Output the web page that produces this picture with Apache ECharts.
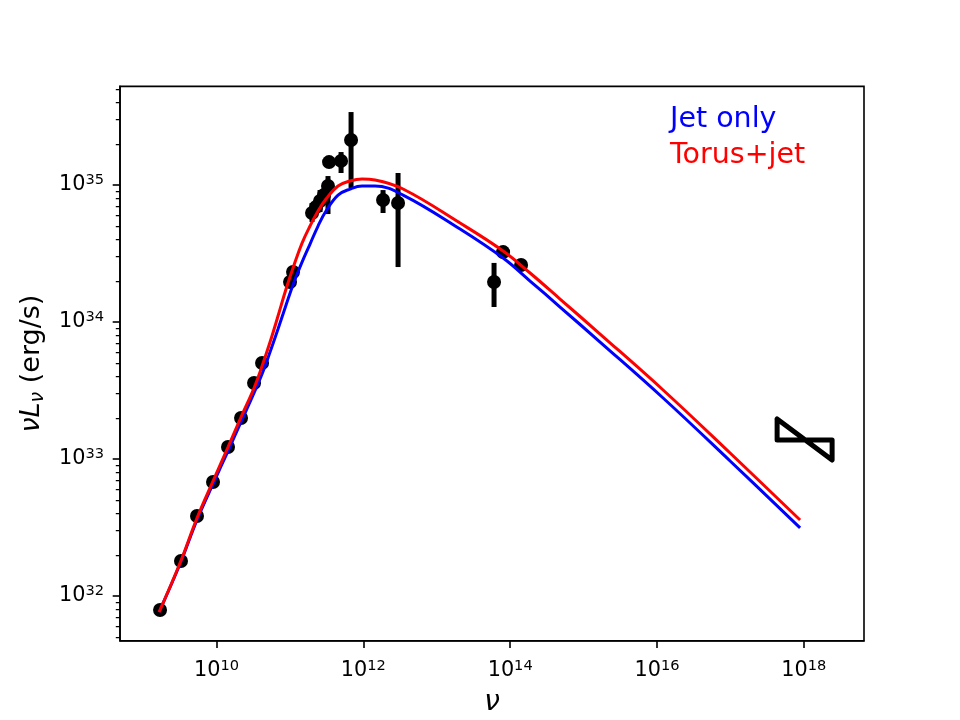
<!DOCTYPE html>
<html>
<head>
<meta charset="utf-8">
<script src="https://cdn.jsdelivr.net/npm/echarts@6/dist/echarts.min.js"></script>
<style>
html, body { margin: 0; padding: 0; background: #fff; }
#main { width: 960px; height: 720px; }
</style>
</head>
<body>
<div id="main"></div>
<script>
// 模型曲线 (nu, nuLnu)
var modelNu = [1.65e9, 3.18e9, 5.42e9, 8.96e9, 1.434e10, 2.157e10, 3.243e10, 4.17e10, 5.36e10, 6.88e10,
    8.85e10, 1.137e11, 1.462e11, 1.878e11, 2.414e11, 3.10e11, 4.52e11, 6.59e11, 9.60e11, 1.443e12,
    3.475e12, 2.077e13, 8.01e13, 1.867e14, 4.78e14, 1.678e15, 1.211e16, 9.91e16, 8.90e17];
var jetL = [7.64e31, 1.712e32, 3.59e32, 6.57e32, 1.144e33, 1.863e33, 3.033e33, 4.17e33, 6.04e33, 8.89e33,
    1.331e34, 1.959e34, 2.74e34, 3.71e34, 5.02e34, 6.46e34, 8.45e34, 9.35e34, 9.83e34, 9.83e34,
    8.45e34, 4.77e34, 2.93e34, 1.992e34, 1.287e34, 7.14e33, 2.788e33, 9.67e32, 3.14e32];
var torusL = [7.64e31, 1.741e32, 3.71e32, 6.91e32, 1.224e33, 2.026e33, 3.30e33, 4.77e33, 7.14e33, 1.106e34,
    1.741e34, 2.61e34, 3.77e34, 5.02e34, 6.46e34, 7.90e34, 9.83e34, 1.07e35, 1.106e35, 1.088e35,
    9.35e34, 5.28e34, 3.30e34, 2.279e34, 1.472e34, 8.17e33, 3.19e33, 1.106e33, 3.59e32];

// 观测点
var obsNu = [1.70e9, 3.28e9, 5.42e9, 8.96e9, 1.434e10, 2.157e10, 3.243e10, 4.17e10, 1.003e11, 1.102e11,
    2.0e11, 2.27e11, 2.57e11, 2.91e11, 3.30e11, 3.41e11, 4.97e11, 6.80e11, 1.855e12, 2.97e12,
    6.03e13, 8.01e13, 1.408e14];
var obsL = [7.9e31, 1.80e32, 3.84e32, 6.80e32, 1.224e33, 1.99e33, 3.59e33, 5.02e33, 1.959e34, 2.32e34,
    6.25e34, 6.91e34, 7.64e34, 8.45e34, 9.83e34, 1.47e35, 1.50e35, 2.13e35, 7.77e34, 7.39e34,
    1.959e34, 3.24e34, 2.61e34];
var obsLo = [null, null, null, null, null, null, null, null, null, null,
    5.37e34, null, 6.35e34, null, 6.14e34, null, 1.224e35, 9.51e34, 6.25e34, 2.52e34,
    1.287e34, null, null];
var obsHi = [null, null, null, null, null, null, null, null, null, null,
    7.39e34, null, 9.19e34, null, 1.163e35, null, 1.741e35, 3.41e35, 9.19e34, 1.224e35,
    2.70e34, null, null];

// X射线 bowtie
var bowNu = [4.33e17, 2.43e18];
var bowSteep = [1.96e33, 9.83e32];
var bowFlat = [1.376e33, 1.376e33];

// 刻度
var xTicks = [1e10, 1e12, 1e14, 1e16, 1e18];
var yTicks = [1e32, 1e33, 1e34, 1e35];
var minorMult = [2, 3, 4, 5, 6, 7, 8, 9];

var xMin = 8.685, xMax = 18.82, yMin = 31.673, yMax = 35.72;
var FONT = 'DejaVu Sans';

function lg(v) { return Math.log10(v); }
function pairs(xs, ys) {
    var out = [];
    for (var i = 0; i < xs.length; i++) out.push([lg(xs[i]), lg(ys[i])]);
    return out;
}

var errData = [];
for (var i = 0; i < obsNu.length; i++) {
    if (obsLo[i] != null) errData.push([lg(obsNu[i]), lg(obsLo[i]), lg(obsHi[i])]);
}

var bowData = [
    [lg(bowNu[0]), lg(bowSteep[0])],
    [lg(bowNu[1]), lg(bowSteep[1])],
    [lg(bowNu[1]), lg(bowFlat[1])],
    [lg(bowNu[0]), lg(bowFlat[0])],
    [lg(bowNu[0]), lg(bowSteep[0])]
];

var yMinor = [];
for (var n = 31; n <= 35; n++) {
    minorMult.forEach(function (k) {
        var v = lg(k * Math.pow(10, n));
        if (v > yMin && v < yMax) yMinor.push(v);
    });
}

function powLabel(v) {
    return '{b|10}{s|' + Math.round(v) + '}';
}
var labelRich = {
    b: { fontFamily: FONT, fontSize: 20.8, color: '#000', lineHeight: 24 },
    s: { fontFamily: FONT, fontSize: 14.6, color: '#000', lineHeight: 15, verticalAlign: 'top' }
};

var chart = echarts.init(document.getElementById('main'));
var option = {
    animation: false,
    backgroundColor: '#fff',
    grid: {
        left: 120, right: 96, top: 86.4, bottom: 79.2,
        show: true, borderColor: '#000', borderWidth: 1.6,
        outerBoundsMode: 'none'
    },
    xAxis: [{
        type: 'value', min: xMin, max: xMax,
        axisLine: { show: true, lineStyle: { color: '#000', width: 1.6 } },
        axisTick: { show: true, length: 7.3, customValues: xTicks.map(lg), lineStyle: { color: '#000', width: 1.6 } },
        axisLabel: { customValues: xTicks.map(lg), margin: 18, formatter: powLabel, rich: labelRich },
        splitLine: { show: false },
        name: '{i|ν}', nameLocation: 'middle', nameGap: 48,
        nameTextStyle: { rich: { i: { fontFamily: FONT, fontStyle: 'italic', fontSize: 28, color: '#000' } } }
    }],
    yAxis: [{
        type: 'value', min: yMin, max: yMax, position: 'left',
        axisLine: { show: true, lineStyle: { color: '#000', width: 1.6 } },
        axisTick: { show: true, length: 7.3, customValues: yTicks.map(lg), lineStyle: { color: '#000', width: 1.6 } },
        axisLabel: { customValues: yTicks.map(lg), margin: 16, formatter: powLabel, rich: labelRich },
        splitLine: { show: false },
        name: '{i|νL}{sub|ν}{n| (erg/s)}', nameLocation: 'middle', nameGap: 72, nameRotate: 90,
        nameTextStyle: {
            rich: {
                i: { fontFamily: FONT, fontStyle: 'italic', fontSize: 27, color: '#000', lineHeight: 32 },
                sub: { fontFamily: FONT, fontStyle: 'italic', fontSize: 19, color: '#000', lineHeight: 15, verticalAlign: 'bottom' },
                n: { fontFamily: FONT, fontSize: 27, color: '#000', lineHeight: 32 }
            }
        }
    }, {
        type: 'value', min: yMin, max: yMax, position: 'left',
        axisLine: { show: false },
        axisTick: { show: true, length: 4.2, customValues: yMinor, lineStyle: { color: '#000', width: 1.25 } },
        axisLabel: { show: false },
        splitLine: { show: false }
    }],
    graphic: [
        { type: 'text', x: 670, y: 120, style: { text: 'Jet only', fill: '#0000ff', font: '28.5px "DejaVu Sans"', verticalAlign: 'middle' } },
        { type: 'text', x: 670, y: 156, style: { text: 'Torus+jet', fill: '#ff0000', font: '28.5px "DejaVu Sans"', verticalAlign: 'middle' } }
    ],
    series: [
        {
            type: 'custom', name: 'err',
            data: errData,
            encode: { x: 0, y: [1, 2] },
            renderItem: function (params, api) {
                var p1 = api.coord([api.value(0), api.value(1)]);
                var p2 = api.coord([api.value(0), api.value(2)]);
                return {
                    type: 'line',
                    shape: { x1: p1[0], y1: p1[1], x2: p2[0], y2: p2[1] },
                    style: { stroke: '#000', lineWidth: 5 }
                };
            },
            z: 2
        },
        {
            type: 'scatter', name: 'data',
            data: pairs(obsNu, obsL),
            symbol: 'circle', symbolSize: 14,
            itemStyle: { color: '#000', opacity: 1 },
            z: 3
        },
        {
            type: 'line', name: 'bowtie',
            data: bowData,
            symbol: 'none',
            lineStyle: { color: '#000', width: 5, cap: 'round', join: 'round' },
            z: 3
        },
        {
            type: 'line', name: 'Jet only',
            data: pairs(modelNu, jetL),
            symbol: 'none', smooth: 0.4,
            lineStyle: { color: '#0000ff', width: 3 },
            z: 4
        },
        {
            type: 'line', name: 'Torus+jet',
            data: pairs(modelNu, torusL),
            symbol: 'none', smooth: 0.4,
            lineStyle: { color: '#ff0000', width: 3 },
            z: 5
        }
    ]
};
chart.setOption(option);
</script>
</body>
</html>
